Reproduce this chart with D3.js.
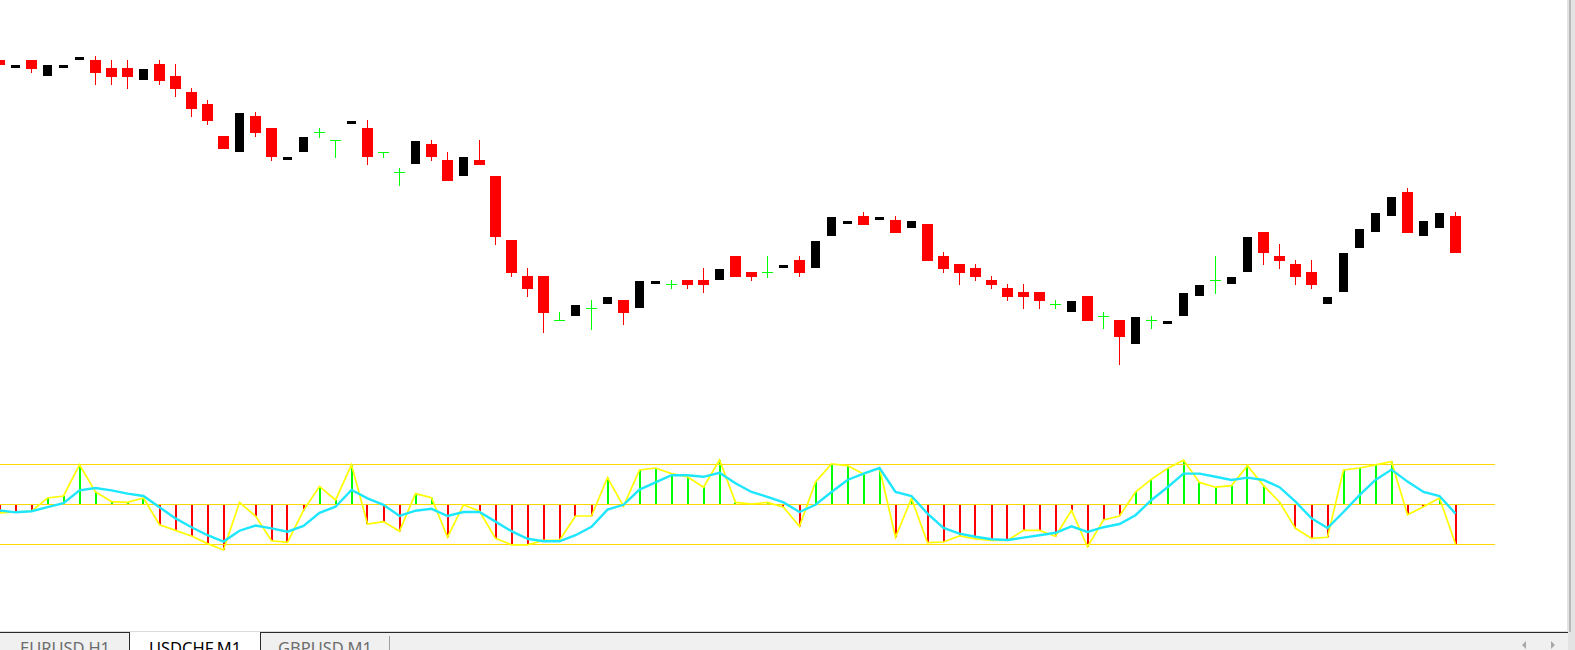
<!DOCTYPE html>
<html>
<head>
<meta charset="utf-8">
<script src="https://cdn.jsdelivr.net/npm/d3@7"></script>
<style>
  html, body { margin: 0; padding: 0; background: #fff; overflow: hidden; }
  svg { display: block; }
</style>
</head>
<body>
<svg id="chart" width="1575" height="650"></svg>
<script>
// USDCHF M1 candles, oldest first
const opens = [
  0.91940,0.91932,0.91940,0.91924,0.91932,0.91940,0.91940,0.91932,0.91932,0.91920,
  0.91936,0.91924,0.91908,0.91896,0.91864,0.91848,0.91884,0.91872,0.91840,0.91848,
  0.91868,0.91860,0.91876,0.91872,0.91848,0.91828,0.91836,0.91856,0.91840,0.91824,
  0.91840,0.91824,0.91760,0.91724,0.91724,0.91680,0.91684,0.91692,0.91696,0.91700,
  0.91692,0.91716,0.91716,0.91720,0.91720,0.91720,0.91744,0.91728,0.91728,0.91732,
  0.91740,0.91732,0.91764,0.91776,0.91784,0.91780,0.91780,0.91772,0.91776,0.91744,
  0.91736,0.91732,0.91720,0.91712,0.91708,0.91708,0.91696,0.91688,0.91704,0.91684,
  0.91680,0.91656,0.91680,0.91676,0.91684,0.91704,0.91720,0.91716,0.91728,0.91768,
  0.91744,0.91736,0.91728,0.91696,0.91708,0.91752,0.91768,0.91784,0.91808,0.91764,
  0.91772,0.91784]
const highs = [
  0.91940,0.91935,0.91940,0.91935,0.91935,0.91943,0.91944,0.91940,0.91940,0.91931,
  0.91940,0.91936,0.91912,0.91900,0.91864,0.91887,0.91888,0.91872,0.91843,0.91863,
  0.91872,0.91860,0.91879,0.91880,0.91848,0.91832,0.91859,0.91860,0.91848,0.91843,
  0.91860,0.91824,0.91760,0.91732,0.91724,0.91688,0.91695,0.91700,0.91703,0.91700,
  0.91719,0.91719,0.91720,0.91720,0.91732,0.91731,0.91744,0.91728,0.91744,0.91735,
  0.91744,0.91759,0.91783,0.91779,0.91788,0.91783,0.91784,0.91779,0.91776,0.91748,
  0.91736,0.91736,0.91724,0.91716,0.91716,0.91708,0.91700,0.91699,0.91704,0.91688,
  0.91680,0.91683,0.91684,0.91679,0.91707,0.91715,0.91744,0.91723,0.91763,0.91768,
  0.91756,0.91740,0.91740,0.91703,0.91747,0.91771,0.91787,0.91803,0.91812,0.91779,
  0.91787,0.91788]
const lows = [
  0.91935,0.91932,0.91927,0.91924,0.91932,0.91940,0.91915,0.91915,0.91911,0.91920,
  0.91915,0.91903,0.91883,0.91875,0.91851,0.91848,0.91863,0.91839,0.91840,0.91848,
  0.91863,0.91843,0.91876,0.91835,0.91843,0.91815,0.91836,0.91839,0.91819,0.91824,
  0.91835,0.91755,0.91723,0.91703,0.91667,0.91680,0.91684,0.91671,0.91696,0.91675,
  0.91692,0.91716,0.91712,0.91711,0.91707,0.91720,0.91723,0.91719,0.91723,0.91732,
  0.91723,0.91732,0.91764,0.91776,0.91775,0.91780,0.91767,0.91772,0.91739,0.91727,
  0.91715,0.91719,0.91711,0.91699,0.91691,0.91691,0.91692,0.91688,0.91679,0.91672,
  0.91635,0.91656,0.91672,0.91676,0.91684,0.91704,0.91707,0.91716,0.91728,0.91735,
  0.91731,0.91715,0.91711,0.91696,0.91708,0.91752,0.91768,0.91784,0.91767,0.91764,
  0.91772,0.91747]
const closes = [
  0.91935,0.91935,0.91931,0.91935,0.91935,0.91943,0.91927,0.91923,0.91923,0.91931,
  0.91919,0.91911,0.91891,0.91879,0.91851,0.91887,0.91867,0.91843,0.91843,0.91863,
  0.91868,0.91860,0.91879,0.91843,0.91848,0.91828,0.91859,0.91843,0.91819,0.91843,
  0.91835,0.91763,0.91727,0.91711,0.91687,0.91680,0.91695,0.91692,0.91703,0.91687,
  0.91719,0.91719,0.91716,0.91715,0.91715,0.91731,0.91723,0.91723,0.91728,0.91735,
  0.91727,0.91759,0.91783,0.91779,0.91775,0.91783,0.91767,0.91779,0.91739,0.91731,
  0.91727,0.91723,0.91715,0.91703,0.91703,0.91699,0.91696,0.91699,0.91679,0.91684,
  0.91663,0.91683,0.91680,0.91679,0.91707,0.91715,0.91720,0.91723,0.91763,0.91747,
  0.91739,0.91723,0.91715,0.91703,0.91747,0.91771,0.91787,0.91803,0.91767,0.91779,
  0.91787,0.91747]

// oscillator (0..100): main line, signal line and its levels
const oscMain = [
  39,40,41,57.5,60,99,65,53,52,57.5,
  24,17,10,0.5,-7.5,52,35,4,2,42,
  72,55,99,25,28,16,63,58,8.5,49,
  41,7,-1,-1,4.6,4.6,35,35,83,47,
  92.5,95,88,84,71,105,52,50,52,46,
  22,77.5,100,98,87.5,95,8.5,57,1.6,2.5,
  10,6.5,4.6,4.6,17,17,9.6,42,-3.4,30,
  35,65,81,94.5,105,77,71,73,98,73,
  52.5,19.6,7,8.4,92.5,95,99,103,36.6,46.6,
  57.5,0]
const oscSignal = [
  42,39.6,41,46,51,67,70,67,63,60,
  46,32,21,11,3,16.6,23,19.6,15.4,22.5,
  39,46.6,67.5,57,49,35,41.6,44,35,40,
  40,28,16,6.6,3.4,3.4,11,21.6,43,49,
  68,77,86,86,84,89,76,65,59,52,
  40,49,65,80,88,95,65,60,38,20,
  13,9,6,5,8,11,14,22,15,21,
  25,36,55,71,88,88,84,80,83,80,
  71,53,32,20,40,61,80,93,78,65,
  60,38]
const oscLevels = [0, 50, 100]

const tabs = ['EURUSD,H1', 'USDCHF,M1', 'GBPUSD,M1']
const activeTab = 'USDCHF,M1'

const svg = d3.select('#chart')
const width = +svg.attr('width')
const height = +svg.attr('height')
const plotRight = 1567
const levelRight = 1495

let bullColor = '#000000'
let bearColor = '#ff0000'
let dojiColor = '#00ff00'

const candles = opens.map((o, i) => ({
  i: i, open: o, high: highs[i], low: lows[i], close: closes[i]
}))

const x = d3.scaleLinear()
  .domain([0, candles.length - 1])
  .range([-0.5, 1455.5])

const y = d3.scaleLinear()
  .domain([0.92000, 0.91350])
  .range([0, 650])

const yOsc = d3.scaleLinear()
  .domain([0, 100])
  .range([544, 464])

svg.append('rect')
  .attr('width', plotRight)
  .attr('height', 631)
  .attr('fill', '#ffffff')

// candles
const gCandles = svg.append('g')

candles.forEach(d => {
  const cx = x(d.i)
  const yO = Math.round(y(d.open))
  const yC = Math.round(y(d.close))
  const yH = Math.round(y(d.high))
  const yL = Math.round(y(d.low))
  if (d.close < d.open) {
    gCandles.append('rect')
      .attr('x', Math.floor(cx)).attr('y', yH)
      .attr('width', 1).attr('height', yL - yH)
      .attr('fill', bearColor)
    gCandles.append('rect')
      .attr('x', cx - 5.5).attr('y', yO)
      .attr('width', 11).attr('height', yC - yO)
      .attr('fill', bearColor)
  } else if (d.close > d.open) {
    gCandles.append('rect')
      .attr('x', cx - 4.5).attr('y', yC)
      .attr('width', 9).attr('height', yO - yC)
      .attr('fill', bullColor)
  } else {
    gCandles.append('rect')
      .attr('x', Math.floor(cx)).attr('y', yH)
      .attr('width', 1).attr('height', yL - yH + 1)
      .attr('fill', dojiColor)
    gCandles.append('rect')
      .attr('x', cx - 5.5).attr('y', yO)
      .attr('width', 11).attr('height', 1)
      .attr('fill', dojiColor)
  }
})

// oscillator window
const gOsc = svg.append('g')

gOsc.selectAll('rect.hist')
  .data(oscMain)
  .enter()
  .append('rect')
  .attr('class', 'hist')
  .attr('x', (d, i) => Math.round(x(i) - 1))
  .attr('y', d => Math.min(yOsc(d), yOsc(50)))
  .attr('width', 2)
  .attr('height', d => Math.abs(yOsc(d) - yOsc(50)))
  .attr('fill', d => d >= 50 ? '#00ff00' : '#ff0000')

gOsc.selectAll('line.level')
  .data(oscLevels)
  .enter()
  .append('line')
  .attr('class', 'level')
  .attr('x1', 0)
  .attr('x2', levelRight)
  .attr('y1', d => yOsc(d) + 0.5)
  .attr('y2', d => yOsc(d) + 0.5)
  .attr('stroke', '#ffd700')
  .attr('stroke-width', 1)

gOsc.append('path')
  .datum(oscMain)
  .attr('fill', 'none')
  .attr('stroke', '#ffff00')
  .attr('stroke-width', 1.7)
  .attr('d', d3.line()
    .x((d, i) => x(i))
    .y(d => yOsc(d)))

gOsc.append('path')
  .datum(oscSignal)
  .attr('fill', 'none')
  .attr('stroke', '#1ee6ff')
  .attr('stroke-width', 2.4)
  .attr('d', d3.line()
    .x((d, i) => x(i))
    .y(d => yOsc(d)))

// right hand border / scrollbar strip
svg.append('rect')
  .attr('x', plotRight).attr('y', 0)
  .attr('width', width - plotRight).attr('height', height)
  .attr('fill', '#e3e3e3')
svg.append('rect')
  .attr('x', plotRight + 2).attr('y', 0)
  .attr('width', 2).attr('height', 632)
  .attr('fill', '#b9b9b9')

// tab bar at the bottom
svg.append('rect')
  .attr('x', 0).attr('y', 632)
  .attr('width', plotRight + 1).attr('height', height - 632)
  .attr('fill', '#f0f0f0')
svg.append('line')
  .attr('x1', 0).attr('x2', plotRight)
  .attr('y1', 631.5).attr('y2', 631.5)
  .attr('stroke', '#dcdcdc')
svg.append('line')
  .attr('x1', 0).attr('x2', plotRight + 1)
  .attr('y1', 632.5).attr('y2', 632.5)
  .attr('stroke', '#2b2b2b')

const tabX = d3.scaleBand()
  .domain(tabs)
  .range([0, 390])

const gTabs = svg.append('g')
tabs.forEach(t => {
  const isActive = t === activeTab
  const tx = tabX(t)
  if (isActive) {
    gTabs.append('rect')
      .attr('x', tx).attr('y', 632)
      .attr('width', tabX.bandwidth()).attr('height', 18)
      .attr('fill', '#ffffff')
  }
  // the labels sit low and are clipped by the window edge, as in the terminal
  gTabs.append('text')
    .attr('x', tx + tabX.bandwidth() / 2)
    .attr('y', 653.5)
    .attr('text-anchor', 'middle')
    .attr('font-family', 'Noto Sans, Open Sans, sans-serif')
    .attr('font-size', 16.5)
    .attr('fill', isActive ? '#000000' : '#6d6d6d')
    .text(t)
})
gTabs.append('line')
  .attr('x1', 129.5).attr('x2', 129.5).attr('y1', 632).attr('y2', height)
  .attr('stroke', '#2b2b2b')
gTabs.append('line')
  .attr('x1', 260.5).attr('x2', 260.5).attr('y1', 632).attr('y2', height)
  .attr('stroke', '#2b2b2b')
gTabs.append('line')
  .attr('x1', 389.5).attr('x2', 389.5).attr('y1', 636).attr('y2', height)
  .attr('stroke', '#a0a0a0')

// scroll arrows
svg.append('path')
  .attr('d', 'M1526,641 L1522,645 L1526,649 Z')
  .attr('fill', '#a8a8a8')
svg.append('path')
  .attr('d', 'M1551,641 L1555,645 L1551,649 Z')
  .attr('fill', '#a8a8a8')
</script>
</body>
</html>
